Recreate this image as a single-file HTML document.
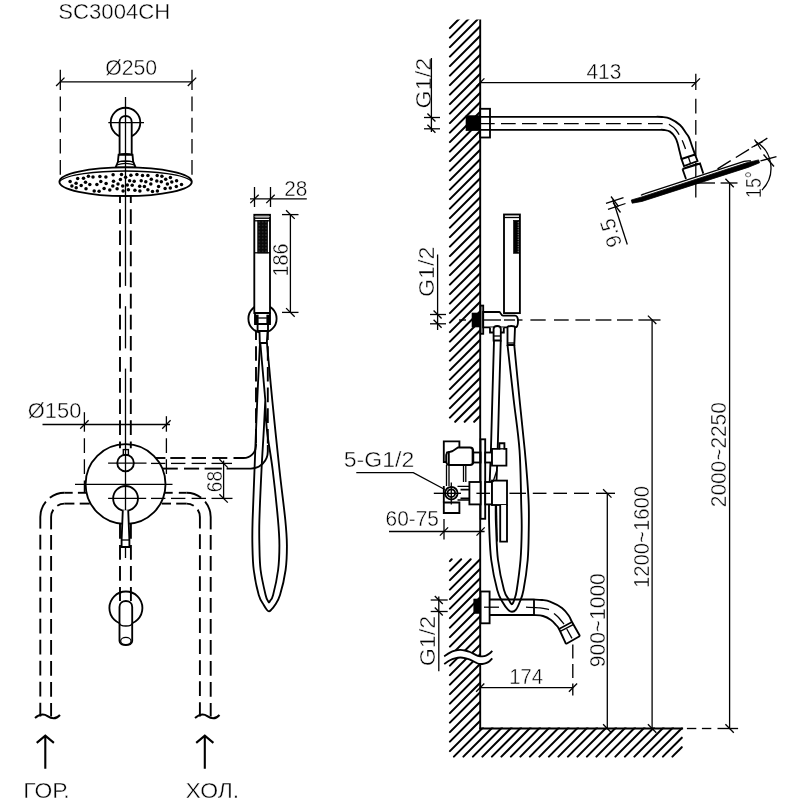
<!DOCTYPE html>
<html><head><meta charset="utf-8"><title>SC3004CH</title>
<style>
html,body{margin:0;padding:0;background:#fff;}
svg{display:block}
.m{fill:none;stroke:#000;stroke-width:1.85}
.mf{fill:#fff;stroke:#000;stroke-width:1.85}
.w{fill:none;stroke:#000;stroke-width:1.9}
.t{fill:none;stroke:#000;stroke-width:1.3}
.d{fill:none;stroke:#000;stroke-width:1.9}
.h{fill:none;stroke:#000;stroke-width:2.05;stroke-linecap:round}
.c{fill:none;stroke:#000;stroke-width:1.35}
.b{fill:#000;stroke:#000;stroke-width:0.6}
.b2{fill:#000;stroke:#000;stroke-width:0.8;stroke-linejoin:round}
</style></head><body>
<svg width="800" height="800" viewBox="0 0 800 800" style="filter:grayscale(1)">
<rect x="0" y="0" width="800" height="800" fill="#fff"/>
<defs>
<clipPath id="cA"><rect x="440" y="19.5" width="41" height="410"/></clipPath>
<clipPath id="cB"><path d="M440,550 H481 V727.6 H690 V765 H440 Z"/></clipPath>
<pattern id="grill" x="257.7" y="220.4" width="3.33" height="3.26" patternUnits="userSpaceOnUse"><rect width="3.4" height="3.3" fill="#0a0a0a"/><rect x="1.2" y="1.2" width="0.9" height="0.9" fill="#6a6a6a"/></pattern>
</defs>
<g clip-path="url(#cA)">
<line x1="449.9" y1="28.1" x2="468.0" y2="10.0" class="h" />
<line x1="449.9" y1="37.6" x2="477.5" y2="10.0" class="h" />
<line x1="449.9" y1="47.1" x2="481" y2="16.0" class="h" />
<line x1="449.9" y1="56.6" x2="481" y2="25.5" class="h" />
<line x1="449.9" y1="66.1" x2="481" y2="35.0" class="h" />
<line x1="449.9" y1="75.6" x2="481" y2="44.5" class="h" />
<line x1="449.9" y1="85.1" x2="481" y2="54.0" class="h" />
<line x1="449.9" y1="94.6" x2="481" y2="63.5" class="h" />
<line x1="449.9" y1="104.1" x2="481" y2="73.0" class="h" />
<line x1="449.9" y1="113.6" x2="481" y2="82.5" class="h" />
<line x1="449.9" y1="123.1" x2="481" y2="92.0" class="h" />
<line x1="449.9" y1="132.6" x2="481" y2="101.5" class="h" />
<line x1="449.9" y1="142.1" x2="481" y2="111.0" class="h" />
<line x1="449.9" y1="151.6" x2="481" y2="120.5" class="h" />
<line x1="449.9" y1="161.1" x2="481" y2="130.0" class="h" />
<line x1="449.9" y1="170.6" x2="481" y2="139.5" class="h" />
<line x1="449.9" y1="180.1" x2="481" y2="149.0" class="h" />
<line x1="449.9" y1="189.6" x2="481" y2="158.5" class="h" />
<line x1="449.9" y1="199.1" x2="481" y2="168.0" class="h" />
<line x1="449.9" y1="208.6" x2="481" y2="177.5" class="h" />
<line x1="449.9" y1="218.1" x2="481" y2="187.0" class="h" />
<line x1="449.9" y1="227.6" x2="481" y2="196.5" class="h" />
<line x1="449.9" y1="237.1" x2="481" y2="206.0" class="h" />
<line x1="449.9" y1="246.6" x2="481" y2="215.5" class="h" />
<line x1="449.9" y1="256.1" x2="481" y2="225.0" class="h" />
<line x1="449.9" y1="265.6" x2="481" y2="234.5" class="h" />
<line x1="449.9" y1="275.1" x2="481" y2="244.0" class="h" />
<line x1="449.9" y1="284.6" x2="481" y2="253.5" class="h" />
<line x1="449.9" y1="294.1" x2="481" y2="263.0" class="h" />
<line x1="449.9" y1="303.6" x2="481" y2="272.5" class="h" />
<line x1="449.9" y1="313.1" x2="481" y2="282.0" class="h" />
<line x1="449.9" y1="322.6" x2="481" y2="291.5" class="h" />
<line x1="449.9" y1="332.1" x2="481" y2="301.0" class="h" />
<line x1="449.9" y1="341.6" x2="481" y2="310.5" class="h" />
<line x1="449.9" y1="351.1" x2="481" y2="320.0" class="h" />
<line x1="449.9" y1="360.6" x2="481" y2="329.5" class="h" />
<line x1="449.9" y1="370.1" x2="481" y2="339.0" class="h" />
<line x1="449.9" y1="379.6" x2="481" y2="348.5" class="h" />
<line x1="449.9" y1="389.1" x2="481" y2="358.0" class="h" />
<line x1="449.9" y1="398.6" x2="481" y2="367.5" class="h" />
<line x1="449.9" y1="408.1" x2="481" y2="377.0" class="h" />
<line x1="449.9" y1="417.6" x2="481" y2="386.5" class="h" />
<line x1="455.2" y1="421.8" x2="481" y2="396.0" class="h" />
<line x1="464.7" y1="421.8" x2="481" y2="405.5" class="h" />
<line x1="474.2" y1="421.8" x2="481" y2="415.0" class="h" />
</g>
<g clip-path="url(#cB)">
<line x1="449.9" y1="561.1" x2="451.7" y2="559.3" class="h" />
<line x1="449.9" y1="570.6" x2="461.2" y2="559.3" class="h" />
<line x1="449.9" y1="580.1" x2="470.7" y2="559.3" class="h" />
<line x1="449.9" y1="589.6" x2="480.2" y2="559.3" class="h" />
<line x1="449.9" y1="599.1" x2="480.5" y2="568.5" class="h" />
<line x1="449.9" y1="608.6" x2="480.5" y2="578.0" class="h" />
<line x1="449.9" y1="618.1" x2="480.5" y2="587.5" class="h" />
<line x1="449.9" y1="627.6" x2="480.5" y2="597.0" class="h" />
<line x1="449.9" y1="637.1" x2="480.5" y2="606.5" class="h" />
<line x1="449.9" y1="646.6" x2="480.5" y2="616.0" class="h" />
<line x1="449.9" y1="656.1" x2="480.5" y2="625.5" class="h" />
<line x1="449.9" y1="665.6" x2="480.5" y2="635.0" class="h" />
<line x1="449.9" y1="675.1" x2="480.5" y2="644.5" class="h" />
<line x1="449.9" y1="684.6" x2="480.5" y2="654.0" class="h" />
<line x1="449.9" y1="694.1" x2="480.5" y2="663.5" class="h" />
<line x1="449.9" y1="703.6" x2="480.5" y2="673.0" class="h" />
<line x1="449.9" y1="713.1" x2="480.5" y2="682.5" class="h" />
<line x1="449.9" y1="722.6" x2="480.5" y2="692.0" class="h" />
<line x1="449.9" y1="732.1" x2="480.5" y2="701.5" class="h" />
<line x1="449.9" y1="741.6" x2="480.5" y2="711.0" class="h" />
<line x1="449.9" y1="751.1" x2="480.5" y2="720.5" class="h" />
<line x1="453.9" y1="756.6" x2="483.0" y2="727.5" class="h" />
<line x1="463.4" y1="756.6" x2="492.5" y2="727.5" class="h" />
<line x1="472.9" y1="756.6" x2="502.0" y2="727.5" class="h" />
<line x1="482.4" y1="756.6" x2="511.5" y2="727.5" class="h" />
<line x1="491.9" y1="756.6" x2="521.0" y2="727.5" class="h" />
<line x1="501.4" y1="756.6" x2="530.5" y2="727.5" class="h" />
<line x1="510.9" y1="756.6" x2="540.0" y2="727.5" class="h" />
<line x1="520.4" y1="756.6" x2="549.5" y2="727.5" class="h" />
<line x1="529.9" y1="756.6" x2="559.0" y2="727.5" class="h" />
<line x1="539.4" y1="756.6" x2="568.5" y2="727.5" class="h" />
<line x1="548.9" y1="756.6" x2="578.0" y2="727.5" class="h" />
<line x1="558.4" y1="756.6" x2="587.5" y2="727.5" class="h" />
<line x1="567.9" y1="756.6" x2="597.0" y2="727.5" class="h" />
<line x1="577.4" y1="756.6" x2="606.5" y2="727.5" class="h" />
<line x1="586.9" y1="756.6" x2="616.0" y2="727.5" class="h" />
<line x1="596.4" y1="756.6" x2="625.5" y2="727.5" class="h" />
<line x1="605.9" y1="756.6" x2="635.0" y2="727.5" class="h" />
<line x1="615.4" y1="756.6" x2="644.5" y2="727.5" class="h" />
<line x1="624.9" y1="756.6" x2="654.0" y2="727.5" class="h" />
<line x1="634.4" y1="756.6" x2="663.5" y2="727.5" class="h" />
<line x1="643.9" y1="756.6" x2="673.0" y2="727.5" class="h" />
<line x1="653.4" y1="756.6" x2="681.8" y2="728.2" class="h" />
<line x1="662.9" y1="756.6" x2="681.8" y2="737.7" class="h" />
<line x1="672.4" y1="756.6" x2="681.8" y2="747.2" class="h" />
</g>
<line x1="480.2" y1="19.5" x2="480.2" y2="729.4" class="w" />
<line x1="479.3" y1="728.5" x2="683.1" y2="728.5" class="w" />
<line x1="686.9" y1="728.5" x2="696.3" y2="728.5" class="c" />
<line x1="701.9" y1="728.5" x2="711.3" y2="728.5" class="c" />
<line x1="717.5" y1="728.5" x2="738.1" y2="728.5" class="c" />
<path d="M444.2,656.4 C445.17,655.77 448.20,653.55 450,652.6 C451.80,651.65 453.27,651.15 455,650.7 C456.73,650.25 458.73,649.93 460.4,649.9 C462.07,649.87 463.40,650.15 465,650.5 C466.60,650.85 468.15,651.23 470,652 C471.85,652.77 474.60,654.40 476.1,655.1 C477.60,655.80 477.97,655.98 479,656.2 C480.03,656.42 481.13,656.50 482.3,656.4 C483.47,656.30 484.80,656.07 486,655.6 C487.20,655.13 488.45,654.40 489.5,653.6 C490.55,652.80 491.83,651.27 492.3,650.8 L492.3,658.4 C491.83,658.87 490.55,660.40 489.5,661.2 C488.45,662.00 487.20,662.73 486,663.2 C484.80,663.67 483.47,663.90 482.3,664.0 C481.13,664.10 480.03,664.02 479,663.8000000000001 C477.97,663.58 477.60,663.40 476.1,662.7 C474.60,662.00 471.85,660.37 470,659.6 C468.15,658.83 466.60,658.45 465,658.1 C463.40,657.75 462.07,657.47 460.4,657.5 C458.73,657.53 456.73,657.85 455,658.3000000000001 C453.27,658.75 451.80,659.25 450,660.2 C448.20,661.15 445.17,663.37 444.2,664.0 Z" class="" style="fill:#fff;stroke:none"/>
<path d="M444.2,656.4 C445.17,655.77 448.20,653.55 450,652.6 C451.80,651.65 453.27,651.15 455,650.7 C456.73,650.25 458.73,649.93 460.4,649.9 C462.07,649.87 463.40,650.15 465,650.5 C466.60,650.85 468.15,651.23 470,652 C471.85,652.77 474.60,654.40 476.1,655.1 C477.60,655.80 477.97,655.98 479,656.2 C480.03,656.42 481.13,656.50 482.3,656.4 C483.47,656.30 484.80,656.07 486,655.6 C487.20,655.13 488.45,654.40 489.5,653.6 C490.55,652.80 491.83,651.27 492.3,650.8" class="m" />
<path d="M444.2,664.0 C445.17,663.37 448.20,661.15 450,660.2 C451.80,659.25 453.27,658.75 455,658.3000000000001 C456.73,657.85 458.73,657.53 460.4,657.5 C462.07,657.47 463.40,657.75 465,658.1 C466.60,658.45 468.15,658.83 470,659.6 C471.85,660.37 474.60,662.00 476.1,662.7 C477.60,663.40 477.97,663.58 479,663.8000000000001 C480.03,664.02 481.13,664.10 482.3,664.0 C483.47,663.90 484.80,663.67 486,663.2 C487.20,662.73 488.45,662.00 489.5,661.2 C490.55,660.40 491.83,658.87 492.3,658.4" class="m" />
<text x="0" y="0" font-size="21.6" textLength="50.5" lengthAdjust="spacingAndGlyphs" font-family="Liberation Sans, sans-serif" fill="#000" stroke="#fff" stroke-width="0.42" transform="translate(430.9,108.4) rotate(-90)">G1/2</text>
<line x1="431.4" y1="58" x2="431.4" y2="132" class="t" />
<line x1="424" y1="117.5" x2="440" y2="117.5" class="t" />
<line x1="427.4" y1="113.5" x2="435.4" y2="121.5" class="t" />
<line x1="424" y1="128.8" x2="440" y2="128.8" class="t" />
<line x1="427.4" y1="124.80000000000001" x2="435.4" y2="132.8" class="t" />
<text x="0" y="0" font-size="21.6" textLength="50.5" lengthAdjust="spacingAndGlyphs" font-family="Liberation Sans, sans-serif" fill="#000" stroke="#fff" stroke-width="0.42" transform="translate(433.7,297) rotate(-90)">G1/2</text>
<line x1="437.6" y1="254.5" x2="437.6" y2="330" class="t" />
<line x1="430" y1="314.5" x2="446" y2="314.5" class="t" />
<line x1="433.6" y1="310.5" x2="441.6" y2="318.5" class="t" />
<line x1="430" y1="323.8" x2="446" y2="323.8" class="t" />
<line x1="433.6" y1="319.8" x2="441.6" y2="327.8" class="t" />
<text x="0" y="0" font-size="21.6" textLength="50.5" lengthAdjust="spacingAndGlyphs" font-family="Liberation Sans, sans-serif" fill="#000" stroke="#fff" stroke-width="0.42" transform="translate(434.7,666.3) rotate(-90)">G1/2</text>
<line x1="438.8" y1="596.5" x2="438.8" y2="671.2" class="t" />
<line x1="430.7" y1="600" x2="447.7" y2="600" class="t" />
<line x1="434.8" y1="596" x2="442.8" y2="604" class="t" />
<line x1="430.7" y1="611.5" x2="447.7" y2="611.5" class="t" />
<line x1="434.8" y1="607.5" x2="442.8" y2="615.5" class="t" />
<rect x="466" y="115.7" width="14" height="15" class="b" />
<rect x="480.2" y="108.8" width="9.8" height="28.7" class="mf" />
<path d="M481,116.8 H655" class="m" />
<path d="M655,116.8 C656.17,116.83 659.50,116.70 662,117 C664.50,117.30 667.00,117.27 670,118.6 C673.00,119.93 677.33,122.60 680,125 C682.67,127.40 684.50,130.92 686,133 C687.50,135.08 688.00,135.33 689,137.5 C690.00,139.67 691.00,143.17 692,146 C693.00,148.83 694.50,153.08 695,154.5" class="m" />
<path d="M481,129.8 H660" class="m" />
<path d="M660,129.8 C660.67,129.83 662.33,129.70 664,130 C665.67,130.30 668.17,130.43 670,131.6 C671.83,132.77 673.75,135.10 675,137 C676.25,138.90 676.75,140.67 677.5,143 C678.25,145.33 678.83,148.33 679.5,151 C680.17,153.67 681.17,157.67 681.5,159" class="m" />
<path d="M468,123.6 H660  C660.83,123.65 663.33,123.67 665,123.9 C666.67,124.13 668.17,123.98 670,125 C671.83,126.02 674.00,127.50 676,130 C678.00,132.50 680.42,136.83 682,140 C683.58,143.17 684.92,147.50 685.5,149" class="t" stroke-dasharray="14.7 6.3" stroke-dashoffset="9"/>
<path d="M681.5,159 L695,154.5 L697.5,161 L684,166 Z" class="m" />
<path d="M688.3,156.8 L690.6,163.6" class="t" />
<path d="M684.6,168 L698.2,163.3" class="t" />
<path d="M682.5,169 L700,163.5 L703.3,173.6 M682.5,169 L686,179" class="m" />
<path d="M631.3,200.0 L641,197.2 L746,163.0 L758.6,159.9 L759.5,162.8 L748,167.4 L642,201.4 L632.2,203.2 Z" class="b2" />
<path d="M641,195.4 C642,194.4 643,194.2 645,193.6 L744,161.4 C746,160.8 748,160.8 751,161" class="t" />
<line x1="480.2" y1="82.6" x2="695.8" y2="82.6" class="t" />
<line x1="476.0" y1="86.8" x2="484.4" y2="78.39999999999999" class="t" />
<line x1="691.5999999999999" y1="86.8" x2="700.0" y2="78.39999999999999" class="t" />
<line x1="695.8" y1="73.8" x2="695.8" y2="90" class="t" />
<line x1="695.8" y1="98.8" x2="695.8" y2="197.6" class="t" stroke-dasharray="14.7 6.5"/>
<text x="586.4" y="78.7" font-size="21.3" textLength="35" lengthAdjust="spacingAndGlyphs" font-family="Liberation Sans, sans-serif" fill="#000" stroke="#fff" stroke-width="0.42">413</text>
<line x1="717.5" y1="168.8" x2="769.4" y2="136.9" class="c" stroke-dasharray="15.5 6"/>
<line x1="760.5" y1="160.9" x2="776.5" y2="156.6" class="t" />
<path d="M755.2,141.2 A30.9,30.9 0 0 1 761.9,190" class="t" />
<line x1="751.5" y1="147.5" x2="763" y2="141.5" class="t" />
<line x1="754.5" y1="139.5" x2="761" y2="149.5" class="t" />
<line x1="763.5" y1="154.5" x2="774" y2="166.5" class="t" />
<text x="0" y="0" font-size="21.3" textLength="27" lengthAdjust="spacingAndGlyphs" font-family="Liberation Sans, sans-serif" fill="#000" stroke="#fff" stroke-width="0.42" transform="translate(760.8,198) rotate(-90)">15°</text>
<line x1="612.8" y1="199.5" x2="627.3" y2="244.5" class="t" />
<line x1="606" y1="203.4" x2="623.5" y2="197.6" class="t" />
<line x1="608" y1="209.3" x2="625.5" y2="203.5" class="t" />
<line x1="611" y1="196.5" x2="618.5" y2="206.5" class="t" />
<line x1="613" y1="202.5" x2="620.5" y2="212.5" class="t" />
<text x="0" y="0" font-size="21.3" textLength="29" lengthAdjust="spacingAndGlyphs" font-family="Liberation Sans, sans-serif" fill="#000" stroke="#fff" stroke-width="0.42" transform="translate(622.3,244.6) rotate(-108)">9.5</text>
<line x1="696" y1="183" x2="715" y2="183" class="c" />
<line x1="720.6" y1="183" x2="737.5" y2="183" class="c" />
<line x1="729.6" y1="183" x2="729.6" y2="728.5" class="t" />
<line x1="725.4" y1="178.8" x2="733.8000000000001" y2="187.2" class="t" />
<line x1="725.4" y1="724.3" x2="733.8000000000001" y2="732.7" class="t" />
<line x1="652.1" y1="319.8" x2="652.1" y2="728.5" class="t" />
<line x1="647.9" y1="315.6" x2="656.3000000000001" y2="324.0" class="t" />
<line x1="647.9" y1="724.3" x2="656.3000000000001" y2="732.7" class="t" />
<line x1="607.3" y1="493.4" x2="607.3" y2="728.5" class="t" />
<line x1="603.0999999999999" y1="489.2" x2="611.5" y2="497.59999999999997" class="t" />
<line x1="603.0999999999999" y1="724.3" x2="611.5" y2="732.7" class="t" />
<text x="0" y="0" font-size="21.5" textLength="105" lengthAdjust="spacingAndGlyphs" font-family="Liberation Sans, sans-serif" fill="#000" stroke="#fff" stroke-width="0.42" transform="translate(726.4,507.2) rotate(-90)">2000~2250</text>
<text x="0" y="0" font-size="21.5" textLength="102" lengthAdjust="spacingAndGlyphs" font-family="Liberation Sans, sans-serif" fill="#000" stroke="#fff" stroke-width="0.42" transform="translate(649.2,588) rotate(-90)">1200~1600</text>
<text x="0" y="0" font-size="21.5" textLength="94" lengthAdjust="spacingAndGlyphs" font-family="Liberation Sans, sans-serif" fill="#000" stroke="#fff" stroke-width="0.42" transform="translate(604.8,667.2) rotate(-90)">900~1000</text>
<path d="M494,340.5 C493.72,350.42 492.80,382.25 492.3,400 C491.80,417.75 491.48,432.00 491,447 C490.52,462.00 489.73,480.33 489.4,490 C489.07,499.67 489.02,498.33 489,505 C488.98,511.67 488.93,520.83 489.3,530 C489.68,539.17 489.93,550.00 491.25,560 C492.57,570.00 495.38,583.00 497.25,590 C499.12,597.00 500.71,598.73 502.5,602 C504.29,605.27 506.42,607.98 508,609.6 C509.58,611.23 510.67,611.75 512,611.75 C513.33,611.75 514.71,611.23 516,609.6 C517.29,607.98 518.50,605.27 519.75,602 C521.00,598.73 522.17,597.00 523.5,590 C524.83,583.00 526.83,570.00 527.7,560 C528.58,550.00 528.58,539.17 528.75,530 C528.92,520.83 528.99,513.33 528.75,505 C528.51,496.67 527.97,489.17 527.3,480 C526.63,470.83 526.03,463.33 524.75,450 C523.47,436.67 521.35,417.50 519.6,400 C517.85,382.50 515.14,354.17 514.25,345" class="m" />
<path d="M500.75,340.5 C500.46,350.42 499.50,382.25 499,400 C498.50,417.75 498.29,429.50 497.75,447 C497.21,464.50 496.01,491.17 495.75,505 C495.49,518.83 495.82,520.83 496.2,530 C496.57,539.17 496.70,550.00 498,560 C499.30,570.00 502.25,583.50 504,590 C505.75,596.50 507.40,596.83 508.5,599 C509.60,601.17 510.05,602.12 510.6,603 C511.15,603.88 511.40,604.25 511.8,604.25 C512.20,604.25 512.55,603.88 513,603 C513.45,602.12 513.88,601.17 514.5,599 C515.12,596.83 515.75,596.50 516.75,590 C517.75,583.50 519.67,570.00 520.5,560 C521.33,550.00 521.58,539.17 521.7,530 C521.83,520.83 521.62,518.33 521.25,505 C520.88,491.67 520.76,467.50 519.5,450 C518.24,432.50 515.70,417.50 513.7,400 C511.70,382.50 508.53,354.17 507.5,345" class="m" />
<rect x="504" y="214.5" width="15.9" height="98.6" class="mf" />
<line x1="504" y1="217.5" x2="519.9" y2="217.5" class="t" />
<rect x="513.5" y="220.3" width="5.2" height="33" class="b" />
<line x1="518.2" y1="222" x2="518.2" y2="252" class="t" style="stroke:#ccc;stroke-width:0.7;stroke-dasharray:1.2 1.2"/>
<rect x="472" y="313" width="8" height="14" class="b" />
<rect x="480.6" y="305.6" width="2.6" height="28.2" class="mf" />
<path d="M483.2,312 H499.5 C500.5,312 501,315.6 503,315.6 H515 C519,315.6 519,327.4 515,327.4 H483.2 Z" class="mf" />
<path d="M490,327.4 V332.5 H503.8 V327.4" class="mf" />
<path d="M493.6,329 C493.6,325 500.8,325 500.8,329 V340.5 H493.6 Z" class="mf" />
<line x1="493.6" y1="336" x2="500.8" y2="336" class="t" />
<path d="M507.5,327.4 C507.5,325.5 515,325.5 515,327.4 L514.3,345 H507.5 Z" class="mf" />
<line x1="507.5" y1="343" x2="514.3" y2="343" class="t" />
<rect x="480.6" y="439.3" width="4.6" height="79.5" class="mf" />
<rect x="485.2" y="452.5" width="7" height="10" class="mf" />
<path d="M492,448.8 H499.4 V443.2 H504.4 V448.8 H506.4 V465.6 H492 Z" class="mf" />
<line x1="499.4" y1="448.8" x2="504.4" y2="448.8" class="t" />
<rect x="485.2" y="482" width="7" height="22.4" class="mf" />
<rect x="492" y="480.6" width="15" height="24.4" class="mf" />
<path d="M500.2,505 V541.6 H507 V505" class="mf" />
<line x1="496.4" y1="505" x2="497.2" y2="541.6" class="t" />
<path d="M493,482 L497,470" class="t" />
<path d="M443.8,441.3 H459.4 V448 L455,451 L449,452 L446.5,455 V462 H443.8 Z" class="mf" />
<path d="M447,452.5 L452,451.5 L458,447.5 H470 C472.5,447.5 473.2,449 473.2,451 V462 C473.2,464 472.5,465 470,465 H449 C447,465 446.3,463 446.3,461 V455 Z" class="mf" />
<line x1="448.8" y1="452" x2="448.8" y2="464" class="w" />
<line x1="472.6" y1="449" x2="472.6" y2="464" class="w" />
<rect x="473.2" y="452.5" width="7.4" height="10" class="m" />
<path d="M446.5,465 V486 M449,465 V486 M463.5,465 V482 M465.8,465 V482" class="m" style="stroke-width:1.3"/>
<rect x="469.4" y="482" width="11.2" height="22.4" class="mf" />
<path d="M457.5,486.4 H469.4 M457.5,500 H469.4" class="m" style="stroke-width:1.4"/>
<path d="M460.5,489.6 H469.4 M460.5,498.4 H469.4" class="m" style="stroke-width:1.6"/>
<path d="M443.8,502.5 H459.4 V513 H443.8 Z" class="mf" />
<path d="M443.8,486 V502.5" class="m" />
<circle cx="451.3" cy="493.2" r="6.3" class="mf" />
<circle cx="451.3" cy="493.2" r="3.8" class="m" />
<line x1="451.3" y1="482.5" x2="451.3" y2="504.5" class="t" />
<text x="343.8" y="467.4" font-size="21.3" textLength="70.4" lengthAdjust="spacingAndGlyphs" font-family="Liberation Sans, sans-serif" fill="#000" stroke="#fff" stroke-width="0.42">5-G1/2</text>
<path d="M356.3,472.7 H413.3 L444.8,489.5" class="t" />
<text x="385.6" y="525.5" font-size="21.3" textLength="53.4" lengthAdjust="spacingAndGlyphs" font-family="Liberation Sans, sans-serif" fill="#000" stroke="#fff" stroke-width="0.42">60-75</text>
<line x1="389" y1="531.5" x2="484.6" y2="531.5" class="t" />
<line x1="439.9" y1="535.6" x2="448.1" y2="527.4" class="t" />
<line x1="476.5" y1="535.6" x2="484.70000000000005" y2="527.4" class="t" />
<line x1="444" y1="519" x2="444" y2="539.5" class="t" />
<rect x="473.8" y="599" width="6.4" height="14.4" class="b" />
<rect x="480.6" y="591.5" width="9" height="31.8" class="mf" />
<path d="M489.6,599.5 H534" class="m" />
<path d="M534,599.5 C535.33,599.58 539.33,599.65 542,600 C544.67,600.35 546.67,600.27 550,601.6 C553.33,602.93 558.83,605.60 562,608 C565.17,610.40 567.33,613.67 569,616 C570.67,618.33 570.17,618.67 572,622 C573.83,625.33 578.67,633.67 580,636" class="m" />
<path d="M489.6,615 H534" class="m" />
<path d="M534,615 C535.50,615.17 540.17,615.17 543,616 C545.83,616.83 548.83,618.50 551,620 C553.17,621.50 554.67,623.50 556,625 C557.33,626.50 557.33,625.83 559,629 C560.67,632.17 564.83,641.50 566,644" class="m" />
<line x1="566" y1="644" x2="580" y2="636" class="m" />
<line x1="534" y1="599.5" x2="534" y2="615" class="m" />
<path d="M559,629 L572,622 M560.2,631.4 L573.2,624.6" class="m" style="stroke-width:1.5"/>
<path d="M484,607.2 H499" class="t" />
<path d="M526,607.2 C528.33,607.30 536.17,607.40 540,607.8 C543.83,608.20 547.50,609.30 549,609.6" class="t" />
<path d="M554,613.5 C554.83,614.25 557.33,616.22 559,618 C560.67,619.78 563.17,623.17 564,624.2" class="t" />
<line x1="566.8" y1="629" x2="572" y2="638.4" class="t" />
<line x1="480.2" y1="687.6" x2="573" y2="687.6" class="t" />
<line x1="476.09999999999997" y1="691.7" x2="484.3" y2="683.5" class="t" />
<line x1="568.9" y1="691.7" x2="577.1" y2="683.5" class="t" />
<line x1="572.8" y1="644.5" x2="572.8" y2="695.5" class="c" stroke-dasharray="14 5.5"/>
<text x="509.3" y="684" font-size="21.3" textLength="33.6" lengthAdjust="spacingAndGlyphs" font-family="Liberation Sans, sans-serif" fill="#000" stroke="#fff" stroke-width="0.42">174</text>
<line x1="459" y1="320" x2="466" y2="320" class="c" />
<line x1="483.5" y1="320" x2="501" y2="320" class="c" />
<line x1="504" y1="320" x2="515" y2="320" class="c" />
<line x1="517.5" y1="320" x2="522.5" y2="320" class="c" />
<line x1="530.4" y1="320" x2="545.7" y2="320" class="c" />
<line x1="554" y1="320" x2="568.7" y2="320" class="c" />
<line x1="575.4" y1="320" x2="590" y2="320" class="c" />
<line x1="595.6" y1="320" x2="611.4" y2="320" class="c" />
<line x1="617" y1="320" x2="632.8" y2="320" class="c" />
<line x1="638.4" y1="320" x2="660.5" y2="320" class="c" />
<line x1="433.8" y1="493.3" x2="461" y2="493.3" class="c" />
<line x1="476.4" y1="493.3" x2="490" y2="493.3" class="c" />
<line x1="509.4" y1="493.3" x2="526" y2="493.3" class="c" />
<line x1="532.8" y1="493.3" x2="546.5" y2="493.3" class="c" />
<line x1="553.4" y1="493.3" x2="567" y2="493.3" class="c" />
<line x1="574" y1="493.3" x2="589" y2="493.3" class="c" />
<line x1="596" y1="493.3" x2="615" y2="493.3" class="c" />
<text x="58.3" y="18.9" font-size="22.6" textLength="112" lengthAdjust="spacingAndGlyphs" font-family="Liberation Sans, sans-serif" fill="#000" stroke="#fff" stroke-width="0.42">SC3004CH</text>
<text x="105.2" y="74.7" font-size="21.3" textLength="52" lengthAdjust="spacingAndGlyphs" font-family="Liberation Sans, sans-serif" fill="#000" stroke="#fff" stroke-width="0.42">Ø250</text>
<line x1="60.3" y1="81.8" x2="192" y2="81.8" class="t" />
<line x1="56.099999999999994" y1="86.0" x2="64.5" y2="77.6" class="t" />
<line x1="187.8" y1="86.0" x2="196.2" y2="77.6" class="t" />
<line x1="60.3" y1="69.8" x2="60.3" y2="90" class="t" />
<line x1="60.3" y1="96.5" x2="60.3" y2="175.4" class="t" stroke-dasharray="14.7 6.5"/>
<line x1="192" y1="69.8" x2="192" y2="90" class="t" />
<line x1="192" y1="96.5" x2="192" y2="175.4" class="t" stroke-dasharray="14.7 6.5"/>
<circle cx="125.5" cy="122.6" r="14.8" class="m" />
<path d="M119.6,154.6 V122 C119.6,114 131.7,114 131.7,122 V154.6" class="mf" />
<line x1="108.3" y1="122.6" x2="144" y2="122.6" class="t" />
<path d="M118.6,154.7 H132.5 L133.2,162 H117.9 Z" class="mf" />
<path d="M118.6,154.9 C122,153.3 129,153.3 132.5,154.9" class="t" />
<path d="M117.9,162 L115.6,167.4 H135.6 L133.2,162" class="mf" />
<path d="M117.9,162.2 C122,160.4 129,160.4 133.2,162.2 M116.6,165 C122,163 129,163 134.6,165" class="t" />
<ellipse cx="125.6" cy="181.7" rx="66.2" ry="14.3" class="mf"/>
<path d="M59.8,181.2 C72,167.6 179,167.6 191.4,181.2" class="t" />
<circle cx="105.9" cy="176.9" r="1.75" fill="#000"/>
<circle cx="142.5" cy="175.5" r="1.75" fill="#000"/>
<circle cx="129.6" cy="180.7" r="1.75" fill="#000"/>
<circle cx="76.1" cy="183.2" r="1.75" fill="#000"/>
<circle cx="117.1" cy="188.8" r="1.75" fill="#000"/>
<circle cx="83.5" cy="178.2" r="1.75" fill="#000"/>
<circle cx="139.9" cy="191.0" r="1.75" fill="#000"/>
<circle cx="134.2" cy="181.2" r="1.75" fill="#000"/>
<circle cx="165.7" cy="179.3" r="1.75" fill="#000"/>
<circle cx="104.1" cy="188.6" r="1.75" fill="#000"/>
<circle cx="89.8" cy="184.5" r="1.75" fill="#000"/>
<circle cx="141.2" cy="180.8" r="1.75" fill="#000"/>
<circle cx="130.9" cy="175.3" r="1.75" fill="#000"/>
<circle cx="145.8" cy="181.8" r="1.75" fill="#000"/>
<circle cx="120.4" cy="179.5" r="1.75" fill="#000"/>
<circle cx="158.6" cy="186.6" r="1.75" fill="#000"/>
<circle cx="96.9" cy="184.4" r="1.75" fill="#000"/>
<circle cx="128.4" cy="189.7" r="1.75" fill="#000"/>
<circle cx="151.3" cy="179.3" r="1.75" fill="#000"/>
<circle cx="122.7" cy="186.0" r="1.75" fill="#000"/>
<circle cx="112.8" cy="186.0" r="1.75" fill="#000"/>
<circle cx="88.4" cy="176.3" r="1.75" fill="#000"/>
<circle cx="76.2" cy="187.8" r="1.75" fill="#000"/>
<circle cx="100.8" cy="181.6" r="1.75" fill="#000"/>
<circle cx="109.8" cy="189.9" r="1.75" fill="#000"/>
<circle cx="70.1" cy="181.6" r="1.75" fill="#000"/>
<circle cx="176.3" cy="186.4" r="1.75" fill="#000"/>
<circle cx="127.3" cy="185.1" r="1.75" fill="#000"/>
<circle cx="170.3" cy="188.0" r="1.75" fill="#000"/>
<circle cx="113.5" cy="181.3" r="1.75" fill="#000"/>
<circle cx="81.2" cy="185.4" r="1.75" fill="#000"/>
<circle cx="93.0" cy="177.1" r="1.75" fill="#000"/>
<circle cx="165.1" cy="188.5" r="1.75" fill="#000"/>
<circle cx="176.6" cy="180.7" r="1.75" fill="#000"/>
<circle cx="86.0" cy="188.8" r="1.75" fill="#000"/>
<circle cx="134.9" cy="190.2" r="1.75" fill="#000"/>
<circle cx="150.8" cy="184.0" r="1.75" fill="#000"/>
<circle cx="106.1" cy="183.4" r="1.75" fill="#000"/>
<circle cx="171.8" cy="182.0" r="1.75" fill="#000"/>
<circle cx="123.1" cy="190.9" r="1.75" fill="#000"/>
<circle cx="147.9" cy="189.7" r="1.75" fill="#000"/>
<circle cx="77.7" cy="178.5" r="1.75" fill="#000"/>
<circle cx="94.2" cy="191.1" r="1.75" fill="#000"/>
<circle cx="99.9" cy="176.5" r="1.75" fill="#000"/>
<circle cx="125.6" cy="177.3" r="1.75" fill="#000"/>
<circle cx="161.3" cy="181.8" r="1.75" fill="#000"/>
<circle cx="99.1" cy="191.2" r="1.75" fill="#000"/>
<circle cx="132.2" cy="185.3" r="1.75" fill="#000"/>
<circle cx="139.7" cy="186.2" r="1.75" fill="#000"/>
<circle cx="152.5" cy="191.5" r="1.75" fill="#000"/>
<circle cx="181.5" cy="184.6" r="1.75" fill="#000"/>
<circle cx="136.9" cy="174.4" r="1.75" fill="#000"/>
<circle cx="157.2" cy="175.6" r="1.75" fill="#000"/>
<circle cx="167.4" cy="184.0" r="1.75" fill="#000"/>
<circle cx="113.1" cy="174.8" r="1.75" fill="#000"/>
<circle cx="156.8" cy="181.1" r="1.75" fill="#000"/>
<circle cx="121.5" cy="174.4" r="1.75" fill="#000"/>
<circle cx="157.4" cy="191.0" r="1.75" fill="#000"/>
<circle cx="147.9" cy="175.5" r="1.75" fill="#000"/>
<circle cx="85.5" cy="182.3" r="1.75" fill="#000"/>
<circle cx="71.9" cy="186.1" r="1.75" fill="#000"/>
<circle cx="144.4" cy="186.4" r="1.75" fill="#000"/>
<circle cx="118.0" cy="184.1" r="1.75" fill="#000"/>
<circle cx="161.9" cy="176.2" r="1.75" fill="#000"/>
<circle cx="170.4" cy="177.6" r="1.75" fill="#000"/>
<line x1="125.5" y1="97" x2="125.5" y2="285.9" class="t" />
<line x1="125.5" y1="306.2" x2="125.5" y2="348.4" class="t" />
<line x1="125.5" y1="368.6" x2="125.5" y2="558" class="t" />
<line x1="120" y1="195.7" x2="120" y2="203" class="d" />
<line x1="130.8" y1="195.7" x2="130.8" y2="203" class="d" />
<line x1="120" y1="209.3" x2="120" y2="448.3" class="d" stroke-dasharray="14.7 6.4"/>
<line x1="130.8" y1="209.3" x2="130.8" y2="448.3" class="d" stroke-dasharray="14.7 6.4"/>
<text x="27.8" y="418.2" font-size="21.3" textLength="53.6" lengthAdjust="spacingAndGlyphs" font-family="Liberation Sans, sans-serif" fill="#000" stroke="#fff" stroke-width="0.42">Ø150</text>
<line x1="42.5" y1="424.5" x2="170" y2="424.5" class="t" />
<line x1="80.2" y1="428.7" x2="88.60000000000001" y2="420.3" class="t" />
<line x1="162.20000000000002" y1="428.7" x2="170.6" y2="420.3" class="t" />
<line x1="84.4" y1="412.2" x2="84.4" y2="431.7" class="t" />
<line x1="84.4" y1="438.2" x2="84.4" y2="493" class="t" stroke-dasharray="14.7 6.4"/>
<line x1="166.4" y1="416.2" x2="166.4" y2="431.7" class="t" />
<line x1="166.4" y1="438.2" x2="166.4" y2="474" class="t" stroke-dasharray="14.7 6.4"/>
<circle cx="125.55" cy="484.15" r="39.95" class="m" />
<line x1="75" y1="484.4" x2="172.5" y2="484.4" class="t" />
<circle cx="125.55" cy="463" r="8.3" class="m" />
<rect x="123.3" y="449.6" width="5.1" height="5.2" class="m" style="stroke-width:1.4"/>
<line x1="108.1" y1="463.2" x2="146.5" y2="463.2" class="t" />
<line x1="151" y1="463.4" x2="165.4" y2="463.4" class="t" />
<line x1="171" y1="463.4" x2="185.4" y2="463.4" class="t" />
<line x1="191.6" y1="463.4" x2="206" y2="463.4" class="t" />
<line x1="211.5" y1="463.4" x2="232" y2="463.4" class="t" />
<circle cx="125.55" cy="498.4" r="12.4" class="m" />
<line x1="108.1" y1="498.4" x2="146.2" y2="498.4" class="t" />
<line x1="151" y1="498.4" x2="165.4" y2="498.4" class="t" />
<line x1="171" y1="498.4" x2="185.4" y2="498.4" class="t" />
<line x1="191.6" y1="498.4" x2="206" y2="498.4" class="t" />
<line x1="211.5" y1="498.4" x2="232.5" y2="498.4" class="t" />
<path d="M122.8,510.2 L121.6,540 V547 H129.4 V540 L128.2,510.2" class="mf" />
<line x1="121.6" y1="540" x2="129.4" y2="540" class="t" />
<line x1="86.7" y1="492.8" x2="77.9" y2="492.8" class="d" />
<line x1="72.7" y1="492.8" x2="64.5" y2="492.8" class="d" />
<path d="M64.5,492.8 A24.2,24.2 0 0 0 40.3,517.0" class="d" stroke-dasharray="15.7 5.40 17.41 100"/>
<line x1="40.3" y1="517.0" x2="40.3" y2="528.6" class="d" />
<line x1="40.3" y1="534.7" x2="40.3" y2="716.6" class="d" stroke-dasharray="14.7 6.3"/>
<line x1="89.7" y1="503.6" x2="79.7" y2="503.6" class="d" />
<line x1="74.4" y1="503.6" x2="64.5" y2="503.6" class="d" />
<path d="M64.5,503.6 A13.4,13.4 0 0 0 51.1,517.0" class="d" stroke-dasharray="7.6 5.50 8.45 100"/>
<line x1="51.1" y1="517.0" x2="51.1" y2="529.4" class="d" />
<line x1="51.1" y1="535.1" x2="51.1" y2="716.6" class="d" stroke-dasharray="14.7 6.3"/>
<line x1="164.4" y1="492.8" x2="172.7" y2="492.8" class="d" />
<line x1="178.8" y1="492.8" x2="186.5" y2="492.8" class="d" />
<path d="M186.5,492.8 A24.2,24.2 0 0 1 210.7,517.0" class="d" stroke-dasharray="15.7 5.40 17.41 100"/>
<line x1="210.7" y1="517.0" x2="210.7" y2="529.4" class="d" />
<line x1="210.7" y1="535" x2="210.7" y2="716.6" class="d" stroke-dasharray="14.7 6.3"/>
<line x1="161.8" y1="503.6" x2="171" y2="503.6" class="d" />
<line x1="176.2" y1="503.6" x2="186.5" y2="503.6" class="d" />
<path d="M186.5,503.6 A13.4,13.4 0 0 1 199.9,517.0" class="d" stroke-dasharray="7.6 5.50 8.45 100"/>
<line x1="199.9" y1="517.0" x2="199.9" y2="528.5" class="d" />
<line x1="199.9" y1="534.2" x2="199.9" y2="716.6" class="d" stroke-dasharray="14.7 6.3"/>
<line x1="155.8" y1="458" x2="165.4" y2="458" class="d" />
<line x1="170.3" y1="458" x2="185.4" y2="458" class="d" />
<line x1="191.6" y1="458" x2="206" y2="458" class="d" />
<line x1="212.2" y1="458" x2="227.3" y2="458" class="d" />
<path d="M233.5,458 H243.5 A12.5,12.5 0 0 0 256,445.5 V444" class="d" />
<line x1="162.7" y1="468.6" x2="177.8" y2="468.6" class="d" />
<line x1="184" y1="468.6" x2="199.1" y2="468.6" class="d" />
<line x1="204.6" y1="468.6" x2="221.8" y2="468.6" class="d" />
<path d="M226.6,468.6 H250.8 A17,17 0 0 0 267.8,451.6 V445" class="d" />
<line x1="256" y1="331" x2="256" y2="340" class="d" />
<line x1="256" y1="346.2" x2="256" y2="443.6" class="d" stroke-dasharray="14.6 6.1"/>
<line x1="267.8" y1="331" x2="267.8" y2="340" class="d" />
<line x1="267.8" y1="346.2" x2="267.8" y2="443.6" class="d" stroke-dasharray="14.6 6.1"/>
<line x1="120" y1="524" x2="120" y2="601" class="d" stroke-dasharray="14.8 6.2"/>
<line x1="130.9" y1="524" x2="130.9" y2="601" class="d" stroke-dasharray="14.8 6.2"/>
<line x1="223.6" y1="460.6" x2="223.6" y2="499" class="t" />
<line x1="219.4" y1="459.2" x2="227.79999999999998" y2="467.59999999999997" class="t" />
<line x1="219.4" y1="494.2" x2="227.79999999999998" y2="502.59999999999997" class="t" />
<text x="0" y="0" font-size="21.3" textLength="21.3" lengthAdjust="spacingAndGlyphs" font-family="Liberation Sans, sans-serif" fill="#000" stroke="#fff" stroke-width="0.42" transform="translate(221.9,492.2) rotate(-90)">68</text>
<path d="M260,342.5 C259.54,352.08 258.17,378.75 257.25,400 C256.33,421.25 255.28,450.00 254.5,470 C253.72,490.00 252.95,507.50 252.6,520 C252.25,532.50 252.21,536.67 252.4,545 C252.59,553.33 252.69,561.67 253.75,570 C254.81,578.33 257.08,589.17 258.75,595 C260.42,600.83 262.38,602.50 263.75,605 C265.12,607.50 266.12,608.95 267,610 C267.88,611.05 268.33,611.30 269,611.3 C269.67,611.30 270.00,611.05 271,610 C272.00,608.95 273.50,607.50 275,605 C276.50,602.50 278.23,600.83 280,595 C281.77,589.17 284.45,578.33 285.6,570 C286.75,561.67 286.95,553.33 286.9,545 C286.85,536.67 286.53,532.50 285.3,520 C284.07,507.50 281.68,490.00 279.5,470 C277.32,450.00 274.35,421.25 272.25,400 C270.15,378.75 267.79,352.08 266.9,342.5" class="m" />
<path d="M265.3,400 C265.05,405.00 264.43,418.33 263.8,430 C263.17,441.67 262.23,455.00 261.5,470 C260.77,485.00 259.75,507.50 259.4,520 C259.05,532.50 259.20,536.67 259.4,545 C259.60,553.33 259.57,561.67 260.6,570 C261.63,578.33 264.37,589.83 265.6,595 C266.83,600.17 267.43,599.75 268,601 C268.57,602.25 268.67,602.50 269,602.5 C269.33,602.50 269.32,602.25 270,601 C270.68,599.75 271.75,600.17 273.1,595 C274.45,589.83 277.05,578.33 278.1,570 C279.15,561.67 279.42,553.33 279.4,545 C279.38,536.67 279.12,532.50 278,520 C276.88,507.50 274.55,485.00 272.7,470 C270.85,455.00 268.13,441.67 266.9,430 C265.67,418.33 265.57,405.00 265.3,400" class="m" />
<line x1="260.3" y1="343" x2="265.3" y2="400" class="m" />
<circle cx="262.5" cy="318.7" r="14.1" class="m" />
<rect x="254.3" y="214.8" width="15.7" height="98.3" class="mf" />
<line x1="254.3" y1="216.6" x2="270" y2="216.6" class="t" style="stroke:#999;stroke-width:0.8"/>
<line x1="254.3" y1="218.2" x2="270" y2="218.2" class="m" style="stroke-width:1.4"/>
<line x1="254.3" y1="220.8" x2="270" y2="220.8" class="t" />
<line x1="254.3" y1="252.8" x2="270" y2="252.8" class="t" />
<rect x="257.7" y="220.4" width="10" height="32.6" class="b" style="fill:url(#grill)"/>
<path d="M255,313 H270 V324 H255 Z" class="mf" />
<rect x="255" y="315" width="3.2" height="8" class="b" />
<rect x="266.8" y="315" width="3.2" height="8" class="b" />
<line x1="258.2" y1="318" x2="266.8" y2="318" class="t" />
<path d="M257.6,324 H268 V331 H257.6 Z" class="mf" />
<path d="M259.5,331 H267.6 L266.8,343 H259.8 Z" class="mf" />
<text x="284.2" y="196.3" font-size="21.3" textLength="23.2" lengthAdjust="spacingAndGlyphs" font-family="Liberation Sans, sans-serif" fill="#000" stroke="#fff" stroke-width="0.42">28</text>
<line x1="250" y1="198.9" x2="306.8" y2="198.9" class="t" />
<line x1="250.3" y1="203.1" x2="258.7" y2="194.70000000000002" class="t" />
<line x1="266.3" y1="203.1" x2="274.7" y2="194.70000000000002" class="t" />
<line x1="254.5" y1="187" x2="254.5" y2="207" class="t" />
<line x1="270.5" y1="187" x2="270.5" y2="207" class="t" />
<line x1="290.4" y1="214.6" x2="290.4" y2="312.4" class="t" />
<line x1="286.09999999999997" y1="210.29999999999998" x2="294.7" y2="218.9" class="t" />
<line x1="286.09999999999997" y1="308.09999999999997" x2="294.7" y2="316.7" class="t" />
<line x1="282" y1="214.6" x2="298.5" y2="214.6" class="t" />
<line x1="282" y1="312.4" x2="298.5" y2="312.4" class="t" />
<text x="0" y="0" font-size="21.3" textLength="33" lengthAdjust="spacingAndGlyphs" font-family="Liberation Sans, sans-serif" fill="#000" stroke="#fff" stroke-width="0.42" transform="translate(288.3,276.5) rotate(-90)">186</text>
<circle cx="125.9" cy="608" r="16.5" class="m" />
<path d="M119.5,641 V607 C119.5,599 132.2,599 132.2,607 V641 C132.2,646.5 119.5,646.5 119.5,641 Z" class="mf" />
<path d="M119.5,623 C119.5,627 132.2,627 132.2,623" class="t" />
<ellipse cx="125.85" cy="641" rx="5.2" ry="3.6" class="t"/>
<path d="M35,718.1 C39.00,714.6 43.50,713.5 47.50,716.1 C51.00,718.5 56.00,719.5 60,715.0" class="m" style="stroke-width:2"/>
<path d="M195,718.1 C198.92,714.6 203.33,713.5 207.25,716.1 C210.68,718.5 215.58,719.5 219.5,715.0" class="m" style="stroke-width:2"/>
<path d="M45.3,768.8 V736 M36.699999999999996,742.9 L45.3,735.6 L53.9,742.9" class="m" style="stroke-width:2.1"/>
<path d="M204.8,768.8 V736 M196.20000000000002,742.9 L204.8,735.6 L213.4,742.9" class="m" style="stroke-width:2.1"/>
<text x="23.3" y="797.7" font-size="22.6" textLength="46.2" lengthAdjust="spacingAndGlyphs" font-family="Liberation Sans, sans-serif" fill="#000" stroke="#fff" stroke-width="0.42">ГОР.</text>
<text x="185.6" y="797.7" font-size="22.6" textLength="53.6" lengthAdjust="spacingAndGlyphs" font-family="Liberation Sans, sans-serif" fill="#000" stroke="#fff" stroke-width="0.42">ХОЛ.</text>
</svg>
</body></html>
